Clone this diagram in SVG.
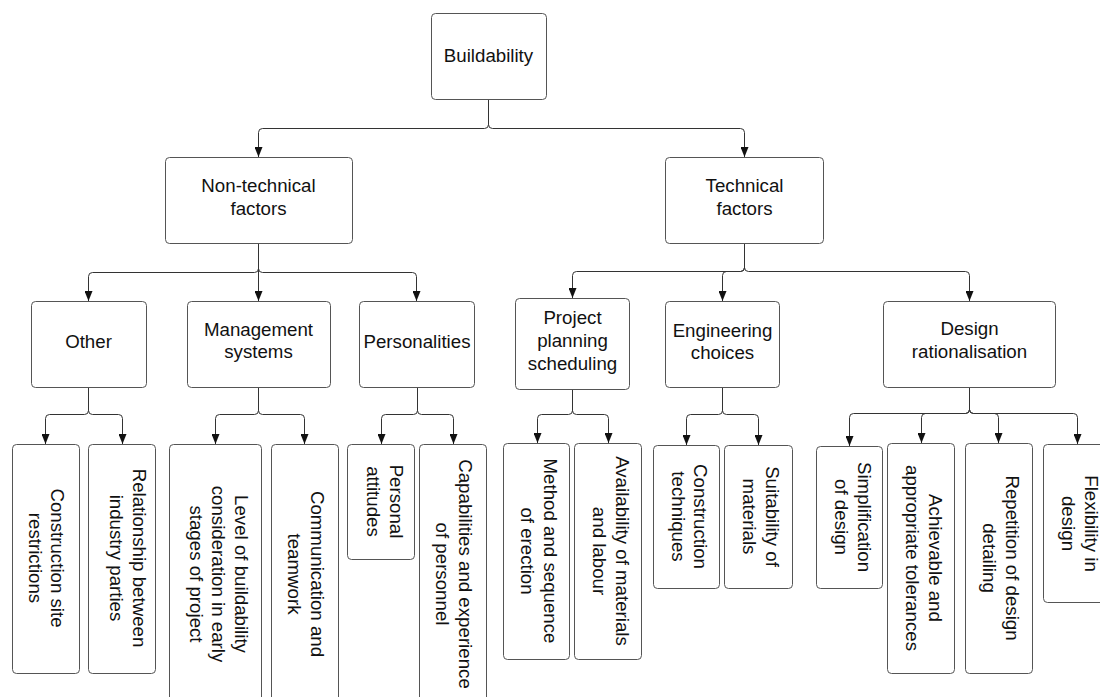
<svg xmlns="http://www.w3.org/2000/svg" width="1100" height="697" viewBox="0 0 1100 697">
  <style>
    .box { fill: #ffffff; stroke: #555555; stroke-width: 1; }
    .lbl { font-family: "Liberation Sans", Arial, sans-serif; font-size: 18.7px; fill: #111111; text-anchor: middle; }
    .conn { fill: none; stroke: #333333; stroke-width: 1; marker-end: url(#arrow); }
  </style>
  <defs>
    <marker id="arrow" markerUnits="userSpaceOnUse" markerWidth="10" markerHeight="8" viewBox="0 0 10 8" refX="10" refY="4" orient="auto">
      <path d="M0,0 L10,4 L0,8 z" fill="#111111"/>
    </marker>
  </defs>
  <rect width="1100" height="697" fill="#ffffff"/>

  <!-- connectors -->
  <g id="connectors">
    <path class="conn" d="M488.5,99 V124.5 Q488.5,128.5 484.5,128.5 H262.5 Q258.5,128.5 258.5,132.5 V157"/>
    <path class="conn" d="M488.5,99 V124.5 Q488.5,128.5 492.5,128.5 H740.5 Q744.5,128.5 744.5,132.5 V157"/>

    <path class="conn" d="M258.5,243 V268.5 Q258.5,272.5 254.5,272.5 H92.5 Q88.5,272.5 88.5,276.5 V301"/>
    <path class="conn" d="M258.5,243 V301"/>
    <path class="conn" d="M258.5,243 V268.5 Q258.5,272.5 262.5,272.5 H412.5 Q416.5,272.5 416.5,276.5 V301"/>

    <path class="conn" d="M744.5,243 V267.5 Q744.5,271.5 740.5,271.5 H576.5 Q572.5,271.5 572.5,275.5 V298"/>
    <path class="conn" d="M744.5,243 V267.5 Q744.5,271.5 740.5,271.5 H726.5 Q722.5,271.5 722.5,275.5 V301"/>
    <path class="conn" d="M744.5,243 V267.5 Q744.5,271.5 748.5,271.5 H965.5 Q969.5,271.5 969.5,275.5 V301"/>

    <path class="conn" d="M88.5,387 V410.5 Q88.5,414.5 84.5,414.5 H49.5 Q45.5,414.5 45.5,418.5 V444"/>
    <path class="conn" d="M88.5,387 V410.5 Q88.5,414.5 92.5,414.5 H118.5 Q122.5,414.5 122.5,418.5 V444"/>

    <path class="conn" d="M258.5,387 V410.5 Q258.5,414.5 254.5,414.5 H219.5 Q215.5,414.5 215.5,418.5 V444"/>
    <path class="conn" d="M258.5,387 V410.5 Q258.5,414.5 262.5,414.5 H300.5 Q304.5,414.5 304.5,418.5 V444"/>

    <path class="conn" d="M417.5,387 V410.5 Q417.5,414.5 413.5,414.5 H385.5 Q381.5,414.5 381.5,418.5 V444"/>
    <path class="conn" d="M417.5,387 V410.5 Q417.5,414.5 421.5,414.5 H449.5 Q453.5,414.5 453.5,418.5 V444"/>

    <path class="conn" d="M572.5,389 V410.5 Q572.5,414.5 568.5,414.5 H541.5 Q537.5,414.5 537.5,418.5 V443"/>
    <path class="conn" d="M572.5,389 V410.5 Q572.5,414.5 576.5,414.5 H604.5 Q608.5,414.5 608.5,418.5 V443"/>

    <path class="conn" d="M722.5,387 V410.5 Q722.5,414.5 718.5,414.5 H690.5 Q686.5,414.5 686.5,418.5 V445"/>
    <path class="conn" d="M722.5,387 V410.5 Q722.5,414.5 726.5,414.5 H754.5 Q758.5,414.5 758.5,418.5 V445"/>

    <path class="conn" d="M969.5,387 V409.5 Q969.5,413.5 965.5,413.5 H853.5 Q849.5,413.5 849.5,417.5 V446"/>
    <path class="conn" d="M969.5,387 V409.5 Q969.5,413.5 965.5,413.5 H925.5 Q921.5,413.5 921.5,417.5 V443"/>
    <path class="conn" d="M969.5,387 V409.5 Q969.5,413.5 973.5,413.5 H994.5 Q998.5,413.5 998.5,417.5 V443"/>
    <path class="conn" d="M969.5,387 V409.5 Q969.5,413.5 973.5,413.5 H1073.5 Q1077.5,413.5 1077.5,417.5 V444"/>
  </g>

  <!-- top level -->
  <g id="buildability">
    <rect class="box" x="431.5" y="13.5" width="115" height="86" rx="4"/>
    <text class="lbl" x="488.5" y="62">Buildability</text>
  </g>

  <!-- second level -->
  <g id="non-technical">
    <rect class="box" x="165.5" y="157.5" width="187" height="86" rx="4"/>
    <text class="lbl" x="258.5" y="192">Non-technical</text>
    <text class="lbl" x="258.5" y="215">factors</text>
  </g>
  <g id="technical">
    <rect class="box" x="665.5" y="157.5" width="158" height="86" rx="4"/>
    <text class="lbl" x="744.5" y="192">Technical</text>
    <text class="lbl" x="744.5" y="215">factors</text>
  </g>

  <!-- third level -->
  <g id="other">
    <rect class="box" x="31.5" y="301.5" width="115" height="86" rx="4"/>
    <text class="lbl" x="88.5" y="348">Other</text>
  </g>
  <g id="management">
    <rect class="box" x="187.5" y="301.5" width="143" height="86" rx="4"/>
    <text class="lbl" x="258.5" y="336">Management</text>
    <text class="lbl" x="258.5" y="358">systems</text>
  </g>
  <g id="personalities">
    <rect class="box" x="359.5" y="301.5" width="115" height="86" rx="4"/>
    <text class="lbl" x="417" y="348">Personalities</text>
  </g>
  <g id="project-planning">
    <rect class="box" x="515.5" y="298.5" width="114" height="91" rx="4"/>
    <text class="lbl" x="572.5" y="324">Project</text>
    <text class="lbl" x="572.5" y="347">planning</text>
    <text class="lbl" x="572.5" y="370">scheduling</text>
  </g>
  <g id="engineering">
    <rect class="box" x="665.5" y="301.5" width="114" height="86" rx="4"/>
    <text class="lbl" x="722.5" y="337">Engineering</text>
    <text class="lbl" x="722.5" y="359">choices</text>
  </g>
  <g id="design-rationalisation">
    <rect class="box" x="883.5" y="301.5" width="172" height="86" rx="4"/>
    <text class="lbl" x="969.5" y="335">Design</text>
    <text class="lbl" x="969.5" y="358">rationalisation</text>
  </g>

  <!-- leaf level, labels turned a quarter clockwise -->
  <g id="site-restrictions">
    <rect class="box" x="12.5" y="444.5" width="67" height="229" rx="4"/>
    <text class="lbl" transform="translate(57.5,558) rotate(90)" y="6.5">Construction site</text>
    <text class="lbl" transform="translate(35.5,558) rotate(90)" y="6.5">restrictions</text>
  </g>
  <g id="relationship">
    <rect class="box" x="88.5" y="444.5" width="67" height="229" rx="4"/>
    <text class="lbl" transform="translate(139,558) rotate(90)" y="6.5">Relationship between</text>
    <text class="lbl" transform="translate(116.5,558) rotate(90)" y="6.5">industry parties</text>
  </g>
  <g id="level-of-buildability">
    <rect class="box" x="169.5" y="444.5" width="92" height="260" rx="4"/>
    <text class="lbl" transform="translate(241,574) rotate(90)" y="6.5">Level of buildability</text>
    <text class="lbl" transform="translate(218.5,574) rotate(90)" y="6.5">consideration in early</text>
    <text class="lbl" transform="translate(196,574) rotate(90)" y="6.5">stages of project</text>
  </g>
  <g id="communication">
    <rect class="box" x="271.5" y="444.5" width="67" height="260" rx="4"/>
    <text class="lbl" transform="translate(317,574) rotate(90)" y="6.5">Communication and</text>
    <text class="lbl" transform="translate(294.5,574) rotate(90)" y="6.5">teamwork</text>
  </g>
  <g id="personal-attitudes">
    <rect class="box" x="347.5" y="444.5" width="67" height="115" rx="4"/>
    <text class="lbl" transform="translate(396,501.5) rotate(90)" y="6.5">Personal</text>
    <text class="lbl" transform="translate(373.5,501.5) rotate(90)" y="6.5">attitudes</text>
  </g>
  <g id="capabilities">
    <rect class="box" x="419.5" y="444.5" width="67" height="260" rx="4"/>
    <text class="lbl" transform="translate(465,574) rotate(90)" y="6.5">Capabilities and experience</text>
    <text class="lbl" transform="translate(442.5,574) rotate(90)" y="6.5">of personnel</text>
  </g>
  <g id="method-sequence">
    <rect class="box" x="503.5" y="443.5" width="66" height="216" rx="4"/>
    <text class="lbl" transform="translate(550,551) rotate(90)" y="6.5">Method and sequence</text>
    <text class="lbl" transform="translate(527.5,551) rotate(90)" y="6.5">of erection</text>
  </g>
  <g id="availability">
    <rect class="box" x="574.5" y="443.5" width="67" height="216" rx="4"/>
    <text class="lbl" transform="translate(622,551) rotate(90)" y="6.5">Availability of materials</text>
    <text class="lbl" transform="translate(599.5,551) rotate(90)" y="6.5">and labour</text>
  </g>
  <g id="construction-techniques">
    <rect class="box" x="653.5" y="445.5" width="66" height="143" rx="4"/>
    <text class="lbl" transform="translate(700.5,516.5) rotate(90)" y="6.5">Construction</text>
    <text class="lbl" transform="translate(678,516.5) rotate(90)" y="6.5">techniques</text>
  </g>
  <g id="suitability">
    <rect class="box" x="724.5" y="445.5" width="68" height="143" rx="4"/>
    <text class="lbl" transform="translate(772,516.5) rotate(90)" y="6.5">Suitability of</text>
    <text class="lbl" transform="translate(749.5,516.5) rotate(90)" y="6.5">materials</text>
  </g>
  <g id="simplification">
    <rect class="box" x="816.5" y="446.5" width="66" height="142" rx="4"/>
    <text class="lbl" transform="translate(864,517) rotate(90)" y="6.5">Simplification</text>
    <text class="lbl" transform="translate(841.5,517) rotate(90)" y="6.5">of design</text>
  </g>
  <g id="tolerances">
    <rect class="box" x="887.5" y="443.5" width="67" height="230" rx="4"/>
    <text class="lbl" transform="translate(935,558) rotate(90)" y="6.5">Achievable and</text>
    <text class="lbl" transform="translate(912.5,558) rotate(90)" y="6.5">appropriate tolerances</text>
  </g>
  <g id="repetition">
    <rect class="box" x="965.5" y="443.5" width="67" height="230" rx="4"/>
    <text class="lbl" transform="translate(1012,558) rotate(90)" y="6.5">Repetition of design</text>
    <text class="lbl" transform="translate(989.5,558) rotate(90)" y="6.5">detailing</text>
  </g>
  <g id="flexibility">
    <rect class="box" x="1043.5" y="444.5" width="77" height="158" rx="4"/>
    <text class="lbl" transform="translate(1091,523.5) rotate(90)" y="6.5">Flexibility in</text>
    <text class="lbl" transform="translate(1068.5,523.5) rotate(90)" y="6.5">design</text>
  </g>
</svg>
